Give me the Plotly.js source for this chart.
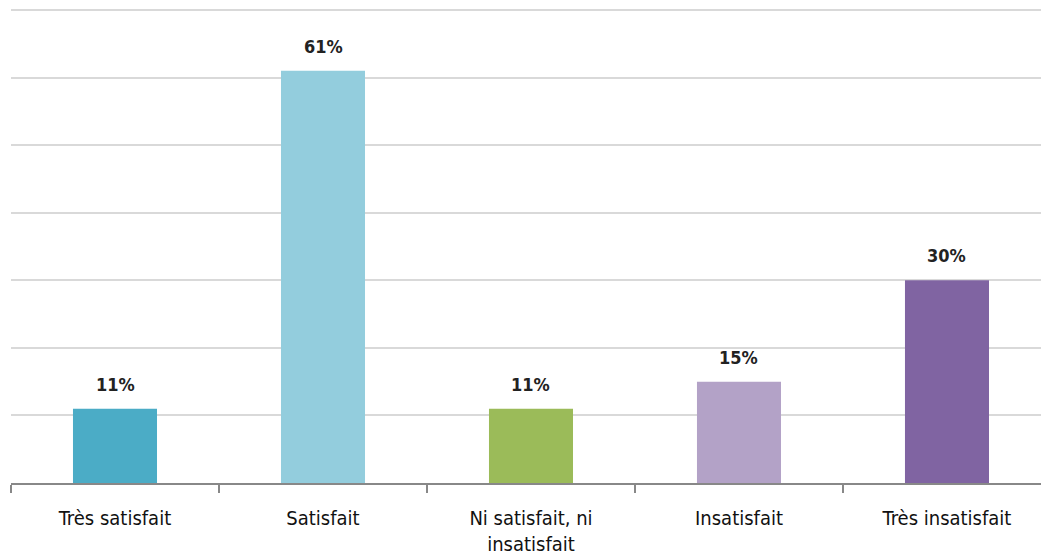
<!DOCTYPE html>
<html><head><meta charset="utf-8">
<script src="https://cdn.plot.ly/plotly-3.0.1.min.js"></script>
<style>html,body{margin:0;padding:0;background:#fff;}#chart{width:1041px;height:560px;}</style>
</head><body><div id="chart"></div>
<script>
const categories = ["Très satisfait", "Satisfait", "Ni satisfait, ni<br>insatisfait", "Insatisfait", "Très insatisfait"];
const values = [11, 61, 11, 15, 30];
const labels = ["11%", "61%", "11%", "15%", "30%"];
const colors = ["#4BACC6", "#93CDDD", "#9BBB59", "#B3A2C7", "#8064A2"];
const FONT = '"Liberation Sans Narrow", "Arial Narrow", "DejaVu Sans Condensed", sans-serif';

const trace = {
  type: 'bar', x: categories, y: values,
  marker: {color: colors, line: {width: 0}},
  hoverinfo: 'none'
};
const annotations = categories.map((c, i) => ({
  x: c, y: values[i], text: '<b>' + labels[i] + '</b>', showarrow: false,
  yanchor: 'bottom', yshift: 12, font: {family: FONT, size: 18, color: '#222'}
}));
const layout = {
  width: 1041, height: 560,
  margin: {l: 11, r: 0, t: 9, b: 77},
  paper_bgcolor: '#fff', plot_bgcolor: '#fff',
  bargap: 0.596, showlegend: false,
  font: {family: FONT, size: 20, color: '#111'},
  xaxis: {
    type: 'category', range: [-0.5, 4.452], fixedrange: true,
    showline: true, linecolor: '#888', linewidth: 2,
    ticks: 'outside', tickson: 'boundaries', ticklen: 8, tickcolor: '#888', tickwidth: 2,
    ticklabelstandoff: 16,
    showgrid: false, tickfont: {family: FONT, size: 20, color: '#111'}
  },
  yaxis: {
    range: [0, 70.15], tick0: 0, dtick: 10, showticklabels: false, ticks: '',
    showgrid: true, gridcolor: '#D9D9D9', gridwidth: 2, zeroline: false, showline: false
  },
  annotations: annotations
};
Plotly.newPlot('chart', [trace], layout, {displayModeBar: false, staticPlot: true});
</script></body></html>
